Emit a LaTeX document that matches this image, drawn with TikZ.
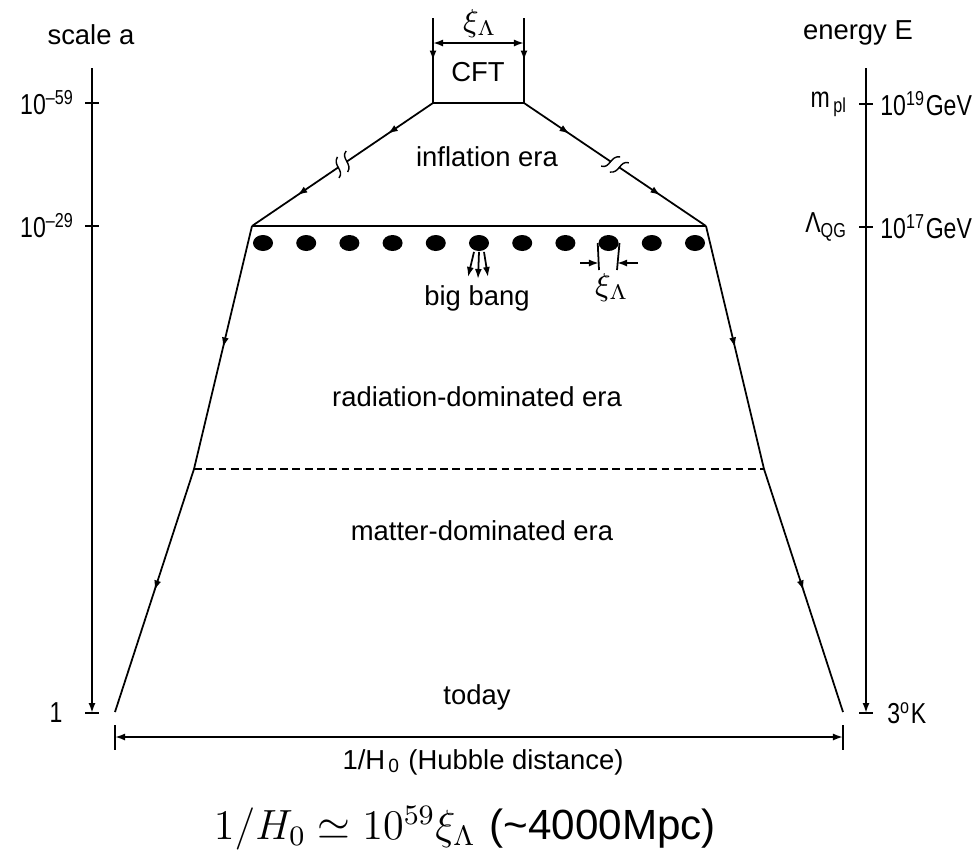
\documentclass[tikz,border=0pt]{standalone}
\usepackage{fontspec}
\newfontfamily\labelfont{Liberation Sans}
\newfontfamily\narrowfont[FakeStretch=0.8]{Liberation Sans}
\usetikzlibrary{arrows.meta,positioning,shapes.geometric,decorations.markings}

\begin{document}
\begin{tikzpicture}[x=0.01cm,y=-0.01cm,line width=0.5pt,
  >={Latex[length=1mm,width=0.7mm]},
  lbl/.style={font=\labelfont\fontsize{7.8}{9}\selectfont,inner sep=1pt},
  nlbl/.style={font=\narrowfont\fontsize{8.2}{9}\selectfont,inner sep=1pt},
  grain/.style={ellipse,fill=black,inner sep=0pt,minimum width=2mm,minimum height=1.6mm},
  midflow/.style={postaction={decorate},decoration={markings,
    mark=at position 0.5 with {\arrow{>}}}},
  breakflow/.style={postaction={decorate},decoration={markings,
    mark=at position 0.25 with {\arrow{>}},
    mark=at position 0.5 with {\fill[white] (-1.3pt,-3.2pt) rectangle (1.3pt,3.2pt);
      \draw[line width=0.4pt] (-3pt,-2.6pt) .. controls (-0.4pt,-1.8pt) and (-2.6pt,1.4pt) .. (0pt,2.6pt);
      \draw[line width=0.4pt] (0pt,-2.6pt) .. controls (2.6pt,-1.4pt) and (0.4pt,1.8pt) .. (3pt,2.6pt);},
    mark=at position 0.75 with {\arrow{>}}}}]
  \useasboundingbox (0,0) rectangle (978,863);

  % Axis titles
  \node[lbl] (scaleA) at (91,35) {scale a};
  \node[lbl] (energyE) at (858,33) {energy E};

  % Scale axis (left)
  \coordinate (sTop) at (92,68);
  \coordinate (sBot) at (92,713);
  \coordinate (s59) at (92,103);
  \coordinate (s29) at (92,226);
  \draw[->] (sTop) -- (sBot);
  \foreach \c in {s59,s29,sBot}
    \draw (\c) ++(-7,0) -- ++(14,0);
  \node[nlbl,anchor=east] (l59) at (79,103) {10\textsuperscript{–59}};
  \node[nlbl,anchor=east] (l29) at (79,226) {10\textsuperscript{–29}};
  \node[nlbl] (l1) at (56,713) {1};

  % Energy axis (right)
  \coordinate (eTop) at (866,68);
  \coordinate (eBot) at (866,713);
  \coordinate (e19) at (866,104);
  \coordinate (e17) at (866,227);
  \draw[->] (eTop) -- (eBot);
  \foreach \c in {e19,e17,eBot}
    \draw (\c) ++(-7,0) -- ++(14,0);
  \node[nlbl,anchor=east] (mpl) at (852,104) {m\textsubscript{\,pl}};
  \node[nlbl,anchor=east] (lqg) at (852,227) {Λ\textsubscript{QG}};
  \node[nlbl,anchor=west] (g19) at (876,104) {10\textsuperscript{19}GeV};
  \node[nlbl,anchor=west] (g17) at (876,227) {10\textsuperscript{17}GeV};
  \node[nlbl,anchor=west] (cmb) at (883,713) {3\textsuperscript{o}K};

  % CFT box
  \coordinate (cftTL) at (433,18);
  \coordinate (cftTR) at (524,18);
  \coordinate (cftL) at (433,103);
  \coordinate (cftR) at (524,103);
  \coordinate (dimL) at (433,43);
  \coordinate (dimR) at (524,43);
  \draw[midflow] (cftTL) -- (cftL);
  \draw[midflow] (cftTR) -- (cftR);
  \draw (cftL) -- (cftR);
  \draw[<->] (dimL) -- (dimR);
  \node[font=\fontsize{9}{10}\selectfont] (xiTop) at (480,24) {$\xi_\Lambda$};
  \node[lbl] (cft) at (478,72) {CFT};

  % Cone
  \coordinate (bbL) at (252,226);
  \coordinate (bbR) at (706,226);
  \coordinate (rdL) at (194,469);
  \coordinate (rdR) at (764,469);
  \coordinate (nowL) at (115,712);
  \coordinate (nowR) at (843,712);
  \draw[breakflow] (cftL) -- (bbL);
  \draw[breakflow] (cftR) -- (bbR);
  \draw (bbL) -- (bbR);
  \draw[midflow] (bbL) -- (rdL);
  \draw[midflow] (rdL) -- (nowL);
  \draw[midflow] (bbR) -- (rdR);
  \draw[midflow] (rdR) -- (nowR);
  \draw[dash pattern=on 2.2pt off 1.3pt] (rdL) -- (rdR);

  % Big bang grains
  \foreach \i in {0,...,10}
    \node[grain] (d\i) at (263+43.2*\i,243) {};
  \coordinate (bb1) at (468,277);
  \coordinate (bb2) at (478,279);
  \coordinate (bb3) at (488,277);
  \draw[->] ([xshift=-0.5mm]d5.south) -- (bb1);
  \draw[->] (d5.south) -- (bb2);
  \draw[->] ([xshift=0.5mm]d5.south) -- (bb3);
  \coordinate (gapL) at (599,270);
  \coordinate (gapR) at (617,270);
  \coordinate (inL) at (599,263);
  \coordinate (inR) at (617,263);
  \coordinate (outL) at (580,263);
  \coordinate (outR) at (638,263);
  \draw (d8.west) -- (gapL);
  \draw (d8.east) -- (gapR);
  \draw[->] (outL) -- (inL);
  \draw[->] (outR) -- (inR);
  \node[font=\fontsize{9}{10}\selectfont] (xiBB) at (612,288) {$\xi_\Lambda$};

  % Era labels
  \node[lbl] (infl) at (487,157) {inflation era};
  \node[lbl] (bang) at (477,298) {big bang};
  \node[lbl] (rad) at (477,397) {radiation-dominated era};
  \node[lbl] (mat) at (482,531) {matter-dominated era};
  \node[lbl] (today) at (477,697) {today};

  % Hubble distance
  \coordinate (hL) at (115,737);
  \coordinate (hR) at (843,737);
  \draw[<->] (hL) -- (hR);
  \draw (hL) ++(0,-12) -- ++(0,25);
  \draw (hR) ++(0,-12) -- ++(0,25);
  \node[lbl] (hub) at (483,762) {1/H\textsubscript{\,0} (Hubble distance)};
  \node[font=\fontsize{12}{14}\selectfont] (form) at (465,828)
    {$1/H_0\simeq10^{59}\xi_\Lambda$ {\labelfont(\textasciitilde4000Mpc)}};
\end{tikzpicture}
\end{document}
